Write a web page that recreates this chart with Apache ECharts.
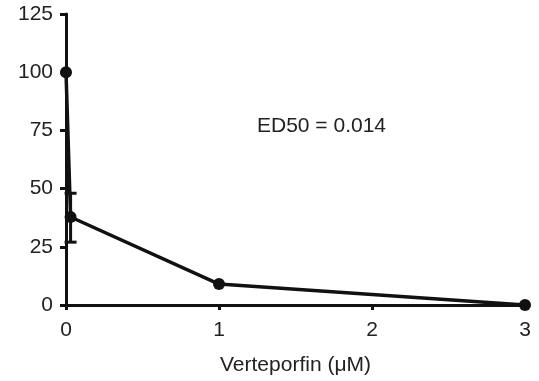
<!DOCTYPE html>
<html>
<head>
<meta charset="utf-8">
<script src="https://cdn.jsdelivr.net/npm/echarts@6/dist/echarts.min.js"></script>
<style>
  body { margin: 0; background: #fff; }
  #chart { width: 539px; height: 381px; }
</style>
</head>
<body>
<div id="chart"></div>
<script>
// dose (uM) vs % response
const doses = [0, 0.03, 1, 3];
const response = [100, 37.8, 9, 0];
// error bars: [dose, low, high]
const errBars = [[0.03, 27, 48]];
const yTicks = [0, 25, 50, 75, 100, 125];
const xTicks = [0, 1, 2, 3];
const annotation = 'ED50 = 0.014';

const chart = echarts.init(document.getElementById('chart'));
const font = 'Liberation Sans, Arial, sans-serif';
const ink = '#111';
const fs = 21;

const option = {
  animation: false,
  grid: { left: 66, right: 14, top: 14, bottom: 76 },
  xAxis: {
    type: 'value',
    min: 0,
    max: 3,
    interval: 1,
    name: 'Verteporfin (\u03bcM)',
    nameLocation: 'middle',
    nameGap: 50,
    nameTextStyle: { fontFamily: font, fontSize: fs, color: '#222' },
    axisLine: { lineStyle: { color: ink, width: 3 } },
    axisTick: { show: true, length: 5, lineStyle: { color: ink, width: 3 } },
    axisLabel: {
      fontFamily: font, fontSize: fs, color: '#222', margin: 15,
      formatter: v => xTicks.includes(v) ? String(v) : ''
    },
    splitLine: { show: false }
  },
  yAxis: {
    type: 'value',
    min: 0,
    max: 125,
    interval: 25,
    axisLine: { show: true, lineStyle: { color: ink, width: 3 } },
    axisTick: { show: true, length: 6, lineStyle: { color: ink, width: 3 } },
    axisLabel: {
      fontFamily: font, fontSize: fs, color: '#222', margin: 13,
      formatter: v => yTicks.includes(v) ? String(v) : ''
    },
    splitLine: { show: false }
  },
  series: [
    {
      type: 'custom',
      data: errBars,
      z: 3,
      renderItem: (params, api) => {
        const top = api.coord([api.value(0), api.value(2)]);
        const bot = api.coord([api.value(0), api.value(1)]);
        const hw = 6;
        const style = { stroke: ink, lineWidth: 3 };
        return {
          type: 'group',
          children: [
            { type: 'line', shape: { x1: top[0], y1: top[1], x2: bot[0], y2: bot[1] }, style },
            { type: 'line', shape: { x1: top[0] - hw, y1: top[1], x2: top[0] + hw, y2: top[1] }, style },
            { type: 'line', shape: { x1: bot[0] - hw, y1: bot[1], x2: bot[0] + hw, y2: bot[1] }, style }
          ]
        };
      }
    },
    {
      type: 'line',
      data: doses.map((d, i) => [d, response[i]]),
      symbol: 'circle',
      symbolSize: 12,
      lineStyle: { color: ink, width: 3.5 },
      itemStyle: { color: ink },
      z: 4
    }
  ],
  graphic: [
    {
      type: 'text',
      left: 257,
      top: 116,
      style: { text: annotation, font: fs + 'px ' + font, fill: '#222' }
    }
  ]
};

chart.setOption(option);
</script>
</body>
</html>
